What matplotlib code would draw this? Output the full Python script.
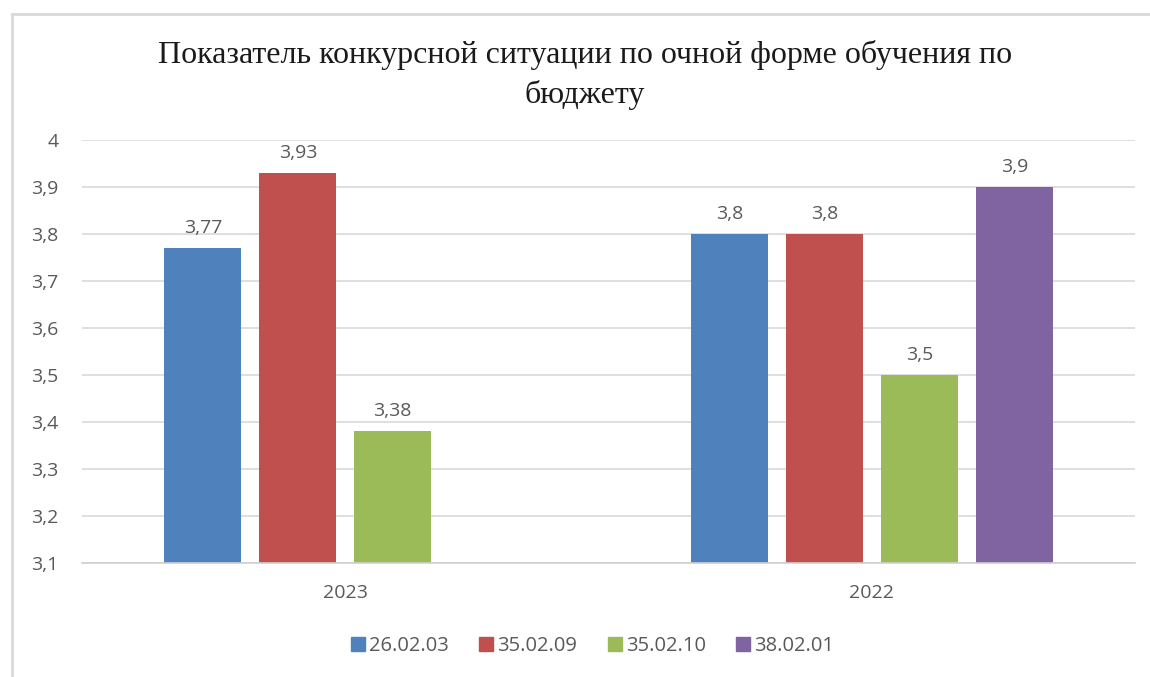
import matplotlib
matplotlib.use("Agg")
import matplotlib.pyplot as plt
from matplotlib.lines import Line2D
import numpy as np

categories = ["2023", "2022"]
series_names = ["26.02.03", "35.02.09", "35.02.10", "38.02.01"]
values_26_02_03 = [3.77, 3.8]
values_35_02_09 = [3.93, 3.8]
values_35_02_10 = [3.38, 3.5]
values_38_02_01 = [None, 3.9]
value_labels = {
    "26.02.03": ["3,77", "3,8"],
    "35.02.09": ["3,93", "3,8"],
    "35.02.10": ["3,38", "3,5"],
    "38.02.01": [None, "3,9"],
}
yticks = [3.1, 3.2, 3.3, 3.4, 3.5, 3.6, 3.7, 3.8, 3.9, 4.0]
ytick_labels = ["3,1", "3,2", "3,3", "3,4", "3,5", "3,6", "3,7", "3,8", "3,9", "4"]
colors = ["#4F81BD", "#C0504D", "#9BBB59", "#8064A2"]
title = "Показатель конкурсной ситуации по очной форме обучения по\nбюджету"

all_values = [values_26_02_03, values_35_02_09, values_35_02_10, values_38_02_01]

W, H = 1150, 677
fig = plt.figure(figsize=(W / 100, H / 100), dpi=100)
ax = fig.add_axes([82 / W, 1 - 563 / H, (1135 - 82) / W, (563 - 140) / H])

tick_color = "#595959"
font = ["Open Sans", "DejaVu Sans"]

slot = 0.1804
bw = 0.146
x = np.arange(len(categories))
for i, (name, vals, c) in enumerate(zip(series_names, all_values, colors)):
    offs = (i - 1.5) * slot
    xs = [xi + offs for xi, v in zip(x, vals) if v is not None]
    ys = [v for v in vals if v is not None]
    labs = [l for l, v in zip(value_labels[name], vals) if v is not None]
    ax.bar(xs, [y - 3.1 for y in ys], bottom=3.1, width=bw, color=c, zorder=3)
    for xx, yy, ll in zip(xs, ys, labs):
        ax.annotate(ll, (xx, yy), xytext=(0, 8), textcoords="offset points",
                    ha="center", va="bottom", fontsize=14, color=tick_color,
                    family=font)

ax.set_xlim(-0.5, 1.5)
ax.set_ylim(3.1, 4.0)
ax.set_yticks(yticks)
ax.set_yticklabels(ytick_labels, family=font, fontsize=14, color=tick_color)
ax.set_xticks(x)
ax.set_xticklabels(categories, family=font, fontsize=14, color=tick_color)
ax.tick_params(axis="both", length=0)
ax.tick_params(axis="y", pad=17)
ax.tick_params(axis="x", pad=15)
ax.yaxis.grid(True, color="#D9D9D9", linewidth=1.2, zorder=0)
for s in ["top", "right", "left"]:
    ax.spines[s].set_visible(False)
ax.spines["bottom"].set_color("#D0D0D0")
ax.spines["bottom"].set_linewidth(1.2)
ax.spines["bottom"].set_zorder(4)

fig.text(585 / W, 1 - 75 / H, title, ha="center", va="center",
         family=["Liberation Serif", "DejaVu Serif"], fontsize=23,
         linespacing=1.45, color="#1a1a1a")

handles = [Line2D([], [], marker="s", linestyle="none", markersize=10.5,
                  markerfacecolor=c, markeredgecolor=c) for c in colors]
leg = fig.legend(handles, series_names, loc="center", bbox_to_anchor=(591 / W, 1 - 646 / H),
                 ncol=4, frameon=False, handletextpad=0.05, handlelength=1.0,
                 columnspacing=1.35, prop={"family": font, "size": 14.5})
for t in leg.get_texts():
    t.set_color(tick_color)

# chart frame
fig.add_artist(Line2D([12 / W, 12 / W], [0, 1 - 14 / H], transform=fig.transFigure,
                      color="#D9D9D9", linewidth=2))
fig.add_artist(Line2D([12 / W, 1], [1 - 14 / H, 1 - 14 / H], transform=fig.transFigure,
                      color="#D9D9D9", linewidth=2))

fig.savefig("out.png", dpi=100, facecolor="white")
